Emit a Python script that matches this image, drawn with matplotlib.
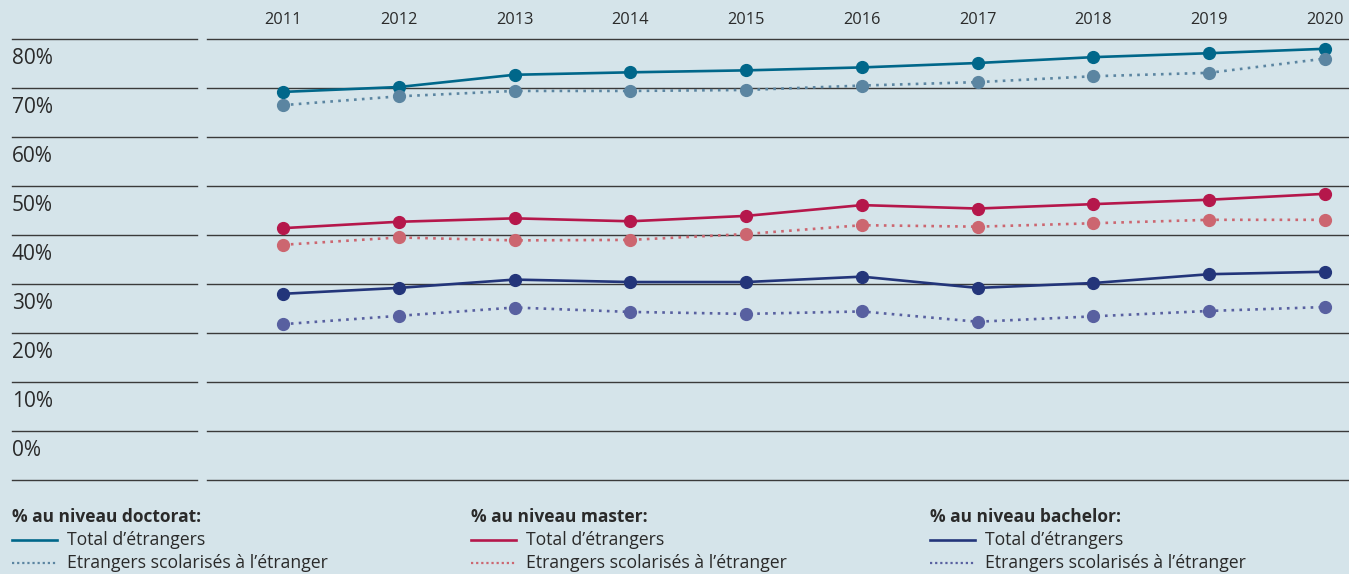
import numpy as np
import matplotlib
matplotlib.use("Agg")
import matplotlib.pyplot as plt
import matplotlib.transforms as mtransforms
from matplotlib.lines import Line2D

plt.rcParams['font.family'] = ['Open Sans', 'DejaVu Sans']

# données (en %)
annees = [2011, 2012, 2013, 2014, 2015, 2016, 2017, 2018, 2019, 2020]
doct_total = [69.2, 70.2, 72.7, 73.2, 73.6, 74.2, 75.1, 76.3, 77.1, 78.0]
doct_etr = [66.5, 68.3, 69.4, 69.4, 69.6, 70.5, 71.2, 72.4, 73.1, 76.0]
master_total = [41.4, 42.7, 43.4, 42.8, 43.9, 46.1, 45.4, 46.3, 47.2, 48.4]
master_etr = [38.0, 39.5, 38.9, 39.0, 40.2, 42.0, 41.7, 42.4, 43.1, 43.1]
bach_total = [28.0, 29.2, 30.9, 30.4, 30.4, 31.5, 29.2, 30.2, 32.0, 32.5]
bach_etr = [21.8, 23.5, 25.2, 24.3, 23.9, 24.4, 22.3, 23.4, 24.5, 25.3]
yticks = [0, 10, 20, 30, 40, 50, 60, 70, 80]
titres = ["% au niveau doctorat:", "% au niveau master:", "% au niveau bachelor:"]
lab_total = "Total d\u2019étrangers"
lab_etr = "Etrangers scolarisés à l\u2019étranger"

bg = '#d5e4ea'
c_doct = '#00678a'
c_doct2 = '#5b85a1'
c_mast = '#b5174b'
c_mast2 = '#cc6670'
c_bach = '#23357a'
c_bach2 = '#5860a0'
grid_c = '#3a3a3a'
txt_c = '#2a2a2a'

W, H = 1349, 574
fig = plt.figure(figsize=(W / 100, H / 100), dpi=100, facecolor=bg)
ax = fig.add_axes([207 / W, (H - 480) / H, (W - 207) / W, 441 / H])
ax.set_facecolor(bg)

ax.set_xlim(2010.344, 2020.207)
ax.set_ylim(-10, 80)

# lignes de la grille (+ segment a gauche sous les etiquettes)
trans = mtransforms.blended_transform_factory(ax.transAxes, ax.transData)
x0 = (12 - 207) / (W - 207)
x1 = (197 - 207) / (W - 207)
for v in [-10] + yticks:
    ax.axhline(v, color=grid_c, lw=1, zorder=1, clip_on=False)
    ax.plot([x0, x1], [v, v], color=grid_c, lw=1, transform=trans, clip_on=False)
for v in yticks:
    ax.text(x0, v - 4.0, f"{v}%", transform=trans, fontsize=15, color=txt_c,
            va='center', ha='left')

series = [
    (doct_total, c_doct, '-'), (doct_etr, c_doct2, (0, (1, 2))),
    (master_total, c_mast, '-'), (master_etr, c_mast2, (0, (1, 2))),
    (bach_total, c_bach, '-'), (bach_etr, c_bach2, (0, (1, 2))),
]
for vals, col, ls in series:
    ax.plot(annees, vals, color=col, ls=ls, lw=1.9, zorder=3)
    ax.plot(annees, vals, ls='none', marker='o', ms=8.5, color=col, zorder=4)

ax.xaxis.tick_top()
ax.set_xticks(annees)
ax.set_xticklabels([str(a) for a in annees])
ax.tick_params(axis='x', length=0, pad=8, labelsize=11.8, labelcolor=txt_c)
ax.set_yticks([])
for s in ax.spines.values():
    s.set_visible(False)

# légende
cols = [(12, c_doct, c_doct2), (471, c_mast, c_mast2), (930, c_bach, c_bach2)]
for (xl, ca, cb), t in zip(cols, titres):
    fig.text(xl / W, 1 - 517 / H, t, fontsize=12.5, fontweight='bold',
             color=txt_c, va='center', ha='left')
    fig.add_artist(Line2D([xl / W, (xl + 45) / W], [1 - 540 / H] * 2,
                          color=ca, lw=1.9))
    fig.add_artist(Line2D([xl / W, (xl + 45) / W], [1 - 563 / H] * 2,
                          color=cb, lw=1.6, ls=(0, (1, 1.3))))
    fig.text((xl + 55) / W, 1 - 540 / H, lab_total, fontsize=12.7,
             color=txt_c, va='center', ha='left')
    fig.text((xl + 55) / W, 1 - 563 / H, lab_etr, fontsize=12.7,
             color=txt_c, va='center', ha='left')

fig.savefig('out.png', dpi=100, facecolor=bg)
